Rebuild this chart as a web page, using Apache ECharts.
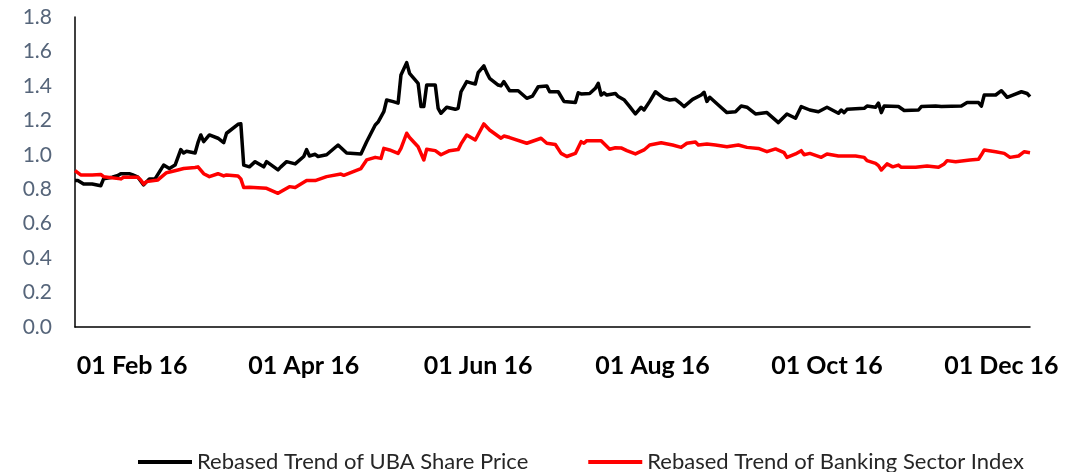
<!DOCTYPE html>
<html>
<head>
<meta charset="utf-8">
<script src="https://cdn.jsdelivr.net/npm/echarts@6/dist/echarts.min.js"></script>
<style>
html,body{margin:0;padding:0;background:#fff;}
#chart{width:1083px;height:472px;}
</style>
</head>
<body>
<div id="chart"></div>
<script>
// ---- data ----
const seriesNames = ['Rebased Trend of UBA Share Price', 'Rebased Trend of Banking Sector Index'];
const tickDates = ['2016-02-01', '2016-04-01', '2016-06-01', '2016-08-01', '2016-10-01', '2016-12-01'];
const tickLabels = ['01 Feb 16', '01 Apr 16', '01 Jun 16', '01 Aug 16', '01 Oct 16', '01 Dec 16'];
const axisStart = '2016-01-12';
const axisEnd = '2016-12-11';
const yTicks = [0, 0.2, 0.4, 0.6, 0.8, 1.0, 1.2, 1.4, 1.6, 1.8];

const ubaSeries = [
['2016-01-12',0.85],['2016-01-13',0.85],['2016-01-15',0.83],['2016-01-18',0.83],['2016-01-21',0.82],
['2016-01-22',0.86],['2016-01-25',0.87],['2016-01-27',0.88],['2016-01-28',0.89],['2016-01-31',0.89],
['2016-02-01',0.885],['2016-02-03',0.87],['2016-02-05',0.825],['2016-02-07',0.86],['2016-02-09',0.86],
['2016-02-12',0.94],['2016-02-14',0.92],['2016-02-16',0.94],['2016-02-18',1.03],['2016-02-19',1.01],
['2016-02-20',1.02],['2016-02-23',1.01],['2016-02-24',1.07],['2016-02-25',1.115],['2016-02-26',1.076],
['2016-02-28',1.115],['2016-03-02',1.096],['2016-03-04',1.07],['2016-03-05',1.125],['2016-03-09',1.177],
['2016-03-10',1.18],['2016-03-11',0.94],['2016-03-13',0.93],['2016-03-15',0.96],['2016-03-18',0.93],
['2016-03-19',0.96],['2016-03-23',0.912],['2016-03-24',0.93],['2016-03-26',0.96],['2016-03-29',0.947],
['2016-04-01',0.99],['2016-04-02',1.03],['2016-04-03',0.993],['2016-04-05',1.003],['2016-04-06',0.99],
['2016-04-09',1.0],['2016-04-13',1.057],['2016-04-16',1.01],['2016-04-21',1.005],['2016-04-23',1.076],
['2016-04-26',1.173],['2016-04-27',1.19],['2016-04-29',1.25],['2016-04-30',1.318],['2016-05-02',1.31],
['2016-05-04',1.30],['2016-05-05',1.463],['2016-05-07',1.535],['2016-05-08',1.473],['2016-05-11',1.415],
['2016-05-12',1.28],['2016-05-13',1.28],['2016-05-14',1.405],['2016-05-17',1.405],['2016-05-18',1.27],
['2016-05-19',1.241],['2016-05-21',1.276],['2016-05-24',1.264],['2016-05-25',1.27],['2016-05-26',1.366],
['2016-05-28',1.425],['2016-05-30',1.415],['2016-05-31',1.411],['2016-06-01',1.477],['2016-06-03',1.516],
['2016-06-04',1.477],['2016-06-05',1.444],['2016-06-08',1.405],['2016-06-09',1.40],['2016-06-10',1.425],
['2016-06-12',1.372],['2016-06-15',1.372],['2016-06-18',1.328],['2016-06-20',1.341],['2016-06-22',1.395],
['2016-06-25',1.40],['2016-06-26',1.366],['2016-06-29',1.366],['2016-07-01',1.31],['2016-07-05',1.304],
['2016-07-06',1.36],['2016-07-07',1.353],['2016-07-10',1.356],['2016-07-12',1.386],['2016-07-13',1.415],
['2016-07-14',1.347],['2016-07-15',1.36],['2016-07-16',1.347],['2016-07-19',1.356],['2016-07-20',1.338],
['2016-07-22',1.32],['2016-07-24',1.28],['2016-07-26',1.237],['2016-07-28',1.276],['2016-07-29',1.26],
['2016-07-31',1.31],['2016-08-02',1.366],['2016-08-05',1.328],['2016-08-07',1.318],['2016-08-09',1.322],
['2016-08-11',1.295],['2016-08-12',1.28],['2016-08-15',1.322],['2016-08-18',1.347],['2016-08-19',1.363],
['2016-08-20',1.31],['2016-08-21',1.334],['2016-08-24',1.289],['2016-08-27',1.245],['2016-08-30',1.25],
['2016-09-01',1.283],['2016-09-03',1.276],['2016-09-06',1.237],['2016-09-10',1.245],['2016-09-14',1.187],
['2016-09-17',1.237],['2016-09-20',1.212],['2016-09-22',1.28],['2016-09-25',1.26],['2016-09-28',1.25],
['2016-10-01',1.276],['2016-10-04',1.25],['2016-10-05',1.241],['2016-10-06',1.26],['2016-10-07',1.245],
['2016-10-08',1.264],['2016-10-14',1.27],['2016-10-15',1.283],['2016-10-18',1.276],['2016-10-19',1.30],
['2016-10-20',1.245],['2016-10-21',1.283],['2016-10-26',1.28],['2016-10-28',1.257],['2016-11-02',1.26],
['2016-11-03',1.28],['2016-11-08',1.283],['2016-11-10',1.28],['2016-11-17',1.283],['2016-11-19',1.303],
['2016-11-23',1.303],['2016-11-24',1.283],['2016-11-25',1.347],['2016-11-29',1.347],['2016-12-01',1.372],
['2016-12-03',1.334],['2016-12-05',1.347],['2016-12-08',1.366],['2016-12-10',1.356],['2016-12-11',1.338]
];

const bankSeries = [
['2016-01-12',0.908],['2016-01-14',0.883],['2016-01-18',0.883],['2016-01-21',0.886],['2016-01-22',0.873],
['2016-01-28',0.86],['2016-01-29',0.87],['2016-02-03',0.87],['2016-02-04',0.854],['2016-02-05',0.83],
['2016-02-06',0.844],['2016-02-10',0.854],['2016-02-13',0.896],['2016-02-17',0.912],['2016-02-19',0.92],
['2016-02-23',0.926],['2016-02-24',0.93],['2016-02-26',0.89],['2016-02-28',0.873],['2016-03-02',0.89],
['2016-03-04',0.877],['2016-03-05',0.883],['2016-03-09',0.877],['2016-03-10',0.86],['2016-03-11',0.81],
['2016-03-13',0.811],['2016-03-19',0.805],['2016-03-23',0.776],['2016-03-27',0.815],['2016-03-29',0.81],
['2016-04-02',0.85],['2016-04-05',0.85],['2016-04-09',0.873],['2016-04-14',0.888],['2016-04-15',0.881],
['2016-04-21',0.92],['2016-04-23',0.97],['2016-04-26',0.985],['2016-04-28',0.979],['2016-04-29',1.037],
['2016-05-01',1.028],['2016-05-04',1.008],['2016-05-05',1.037],['2016-05-07',1.125],['2016-05-08',1.10],
['2016-05-11',1.047],['2016-05-13',0.97],['2016-05-14',1.032],['2016-05-17',1.024],['2016-05-19',1.0],
['2016-05-22',1.024],['2016-05-25',1.03],['2016-05-26',1.063],['2016-05-28',1.115],['2016-05-31',1.086],
['2016-06-03',1.179],['2016-06-05',1.144],['2016-06-09',1.096],['2016-06-10',1.109],['2016-06-12',1.10],
['2016-06-18',1.067],['2016-06-23',1.096],['2016-06-25',1.067],['2016-06-28',1.06],['2016-06-30',1.008],
['2016-07-02',0.99],['2016-07-05',1.008],['2016-07-07',1.076],['2016-07-08',1.067],['2016-07-09',1.082],
['2016-07-14',1.082],['2016-07-17',1.032],['2016-07-19',1.041],['2016-07-21',1.04],['2016-07-23',1.024],
['2016-07-26',1.005],['2016-07-29',1.028],['2016-07-31',1.057],['2016-08-04',1.07],['2016-08-08',1.057],
['2016-08-11',1.043],['2016-08-13',1.067],['2016-08-16',1.074],['2016-08-17',1.057],['2016-08-20',1.063],
['2016-08-23',1.057],['2016-08-27',1.047],['2016-08-31',1.057],['2016-09-03',1.043],['2016-09-07',1.037],
['2016-09-10',1.018],['2016-09-13',1.034],['2016-09-16',1.012],['2016-09-17',0.985],['2016-09-20',1.005],
['2016-09-22',1.024],['2016-09-23',1.0],['2016-09-25',1.008],['2016-09-29',0.985],['2016-10-01',1.005],
['2016-10-05',0.993],['2016-10-11',0.993],['2016-10-14',0.985],['2016-10-15',0.966],['2016-10-18',0.95],
['2016-10-19',0.937],['2016-10-20',0.912],['2016-10-22',0.947],['2016-10-24',0.93],['2016-10-26',0.94],
['2016-10-27',0.927],['2016-11-01',0.927],['2016-11-05',0.935],['2016-11-09',0.927],['2016-11-11',0.947],
['2016-11-12',0.966],['2016-11-15',0.96],['2016-11-20',0.97],['2016-11-23',0.974],['2016-11-24',1.0],
['2016-11-25',1.028],['2016-11-29',1.018],['2016-12-02',1.008],['2016-12-04',0.985],['2016-12-07',0.993],
['2016-12-09',1.018],['2016-12-11',1.012]
];

// ---- chart ----
function ts(s) { const p = s.split('-'); return new Date(+p[0], +p[1] - 1, +p[2]).getTime(); }
const toPts = arr => arr.map(d => [ts(d[0]), d[1]]);
const tickTs = tickDates.map(ts);

const chart = echarts.init(document.getElementById('chart'), null, { renderer: 'canvas' });
chart.setOption({
  animation: false,
  backgroundColor: '#ffffff',
  grid: { left: 75, right: 53, top: 17, bottom: 145 },
  legend: {
    data: seriesNames,
    left: 133,
    top: 446,
    icon: 'rect',
    itemWidth: 54,
    itemHeight: 4,
    itemGap: 60,
    textStyle: { fontFamily: 'Lato', fontSize: 22, color: '#262626' }
  },
  xAxis: {
    type: 'value',
    min: ts(axisStart),
    max: ts(axisEnd),
    axisLine: { show: true, lineStyle: { color: '#000', width: 1.5 } },
    axisTick: { show: false },
    splitLine: { show: false },
    axisLabel: {
      customValues: tickTs,
      margin: 26,
      fontFamily: 'Lato',
      fontWeight: 'bold',
      fontSize: 25,
      color: '#000',
      hideOverlap: false,
      formatter: function (v) {
        for (let i = 0; i < tickTs.length; i++) {
          if (Math.abs(tickTs[i] - v) < 43200000) return tickLabels[i];
        }
        return '';
      }
    }
  },
  yAxis: {
    type: 'value',
    min: yTicks[0],
    max: yTicks[yTicks.length - 1],
    interval: 0.2,
    axisLine: { show: true, lineStyle: { color: '#000', width: 1.5 } },
    axisTick: { show: false },
    splitLine: { show: false },
    axisLabel: {
      margin: 23,
      fontFamily: 'Lato',
      fontSize: 21,
      color: '#56657a',
      formatter: v => v.toFixed(1)
    }
  },
  series: [
    {
      name: seriesNames[0], type: 'line', data: toPts(ubaSeries),
      showSymbol: false, symbol: 'none',
      lineStyle: { color: '#000000', width: 3.5, join: 'round' },
      itemStyle: { color: '#000000' }
    },
    {
      name: seriesNames[1], type: 'line', data: toPts(bankSeries),
      showSymbol: false, symbol: 'none',
      lineStyle: { color: '#ff0000', width: 3.5, join: 'round' },
      itemStyle: { color: '#ff0000' }
    }
  ]
});
</script>
</body>
</html>
